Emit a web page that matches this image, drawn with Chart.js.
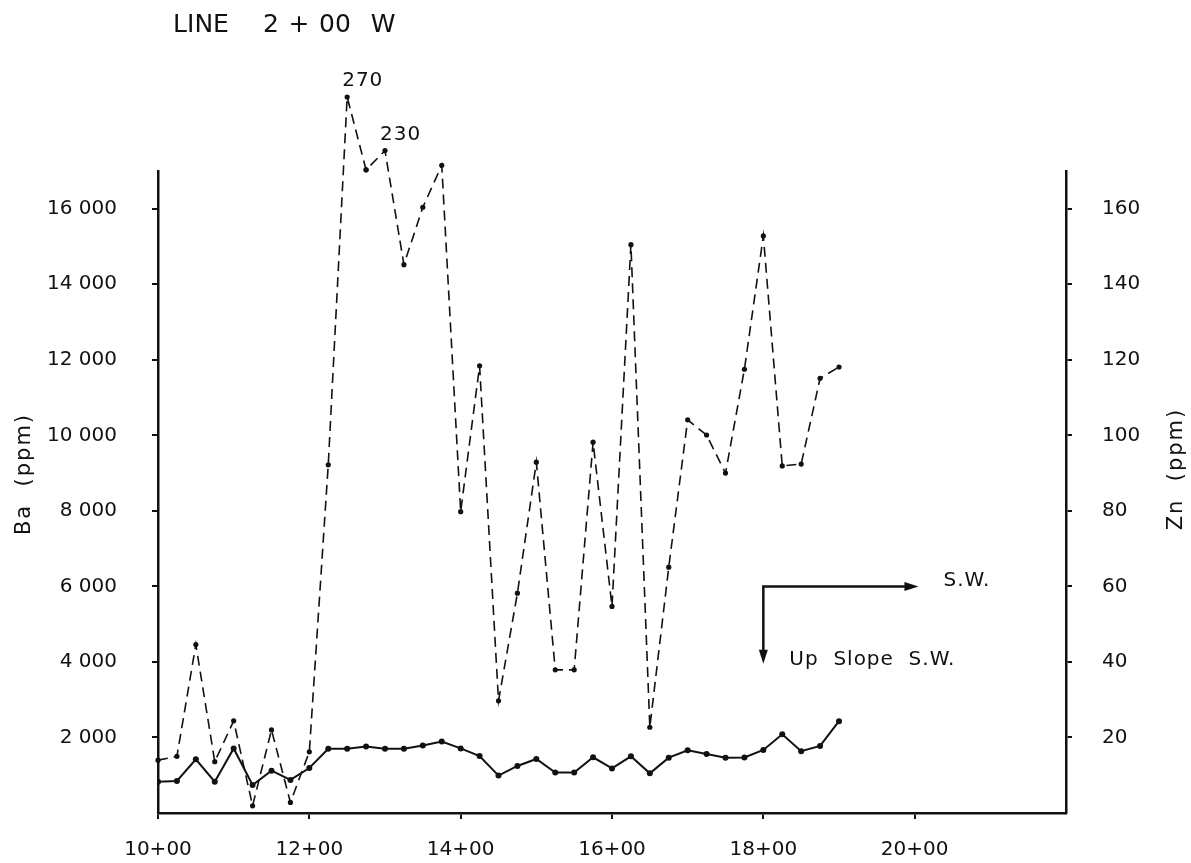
<!DOCTYPE html>
<html>
<head>
<meta charset="utf-8">
<title>Line 2+00 W - Ba and Zn</title>
<script src="https://cdn.jsdelivr.net/npm/chart.js@4"></script>
<style>
  html, body { margin: 0; padding: 0; background: #fff; }
  #wrap { width: 1191px; height: 863px; }
</style>
</head>
<body>
<div id="wrap"><canvas id="chart" width="1191" height="863"></canvas></div>
<script>
// stations along the line, in hundreds of feet (10+00 ... 19+00)
const stations = [
  10.00, 10.25, 10.50, 10.75, 11.00, 11.25, 11.50, 11.75, 12.00, 12.25,
  12.50, 12.75, 13.00, 13.25, 13.50, 13.75, 14.00, 14.25, 14.50, 14.75,
  15.00, 15.25, 15.50, 15.75, 16.00, 16.25, 16.50, 16.75, 17.00, 17.25,
  17.50, 17.75, 18.00, 18.25, 18.50, 18.75, 19.00
];

// Ba (ppm) - solid line, left axis
const baValues = [
  830, 850, 1420, 830, 1710, 740, 1120, 875, 1190, 1700,
  1700, 1760, 1700, 1700, 1790, 1890, 1710, 1510, 990, 1245,
  1430, 1070, 1070, 1475, 1180, 1500, 1050, 1465, 1660, 1560,
  1465, 1470, 1670, 2085, 1635, 1775, 2430
];

// Zn (ppm) - dashed line, right axis (12+50 and 13+00 are drawn off scale)
const znValues = [
  14, 15, 44.6, 13.6, 24.4, 1.9, 22, 2.8, 16.2, 92.2,
  189.6, 170.3, 175.4, 145.2, 160.4, 171.5, 79.8, 118.4, 29.7, 58.2,
  92.9, 37.9, 37.9, 98.2, 54.7, 150.5, 22.7, 65.1, 104.1, 100.1,
  90, 117.5, 152.8, 91.9, 92.4, 115.1, 118.1
];

// true values written beside the off-scale Zn points
const znPeakNotes = [
  { station: 12.50, text: '270' },
  { station: 13.00, text: '230' }
];

const xTicks = [10, 12, 14, 16, 18, 20];
const baTicks = [2000, 4000, 6000, 8000, 10000, 12000, 14000, 16000];
const znTicks = [20, 40, 60, 80, 100, 120, 140, 160];

const ink = '#111';
const fontFamily = '"DejaVu Sans", sans-serif';

const overlay = {
  id: 'overlay',
  afterDatasetsDraw(chart) {
    const { ctx, scales: { x, y1 } } = chart;
    ctx.save();
    ctx.fillStyle = ink;
    ctx.strokeStyle = ink;
    ctx.textBaseline = 'middle';

    // Zn points that sit above the frame (Chart.js skips points outside the chart area)
    const area = chart.chartArea;
    chart.getDatasetMeta(1).data.forEach(pt => {
      if (pt.y < area.top + 2) {
        ctx.beginPath();
        ctx.arc(pt.x, pt.y, 2.6, 0, Math.PI * 2);
        ctx.fill();
      }
    });

    // title, spaced out like the typewriter original
    ctx.font = '25px ' + fontFamily;
    ctx.textAlign = 'center';
    [['LINE', 201], ['2', 271], ['+', 299], ['00', 335], ['W', 383]].forEach(([t, tx]) => {
      ctx.fillText(t, tx, 25);
    });

    // axis titles
    ctx.font = '21px ' + fontFamily;
    ctx.textAlign = 'center';
    ctx.letterSpacing = '2px';
    [['Ba  (ppm)', 25, 474], ['Zn  (ppm)', 1177, 469]].forEach(([t, cx, cy]) => {
      ctx.save();
      ctx.translate(cx, cy);
      ctx.rotate(-Math.PI / 2);
      ctx.fillText(t, 0, 0);
      ctx.restore();
    });

    // off-scale values
    ctx.font = '20px ' + fontFamily;
    ctx.letterSpacing = '1px';
    ctx.textAlign = 'left';
    znPeakNotes.forEach(n => {
      const i = stations.indexOf(n.station);
      const px = x.getPixelForValue(n.station);
      const py = y1.getPixelForValue(znValues[i]);
      ctx.fillText(n.text, px - 5, py - 16);
    });

    // direction arrows
    const cx = x.getPixelForValue(18);
    const cy = y1.getPixelForValue(60);
    const rx = x.getPixelForValue(20.05);
    const by = y1.getPixelForValue(39.5);
    ctx.lineWidth = 2.5;
    ctx.beginPath();
    ctx.moveTo(rx - 10, cy);
    ctx.lineTo(cx, cy);
    ctx.lineTo(cx, by - 10);
    ctx.stroke();
    ctx.beginPath();
    ctx.moveTo(rx, cy);
    ctx.lineTo(rx - 14, cy - 4.5);
    ctx.lineTo(rx - 14, cy + 4.5);
    ctx.closePath();
    ctx.fill();
    ctx.beginPath();
    ctx.moveTo(cx, by);
    ctx.lineTo(cx - 4.5, by - 14);
    ctx.lineTo(cx + 4.5, by - 14);
    ctx.closePath();
    ctx.fill();

    ctx.font = '20px ' + fontFamily;
    ctx.letterSpacing = '1px';
    ctx.fillText('S.W.', rx + 25, cy - 6);
    ctx.fillText('Up  Slope  S.W.', cx + 26, by - 4);
    ctx.restore();
  }
};

const axisGrid = {
  display: true,
  drawOnChartArea: false,
  drawTicks: true,
  tickLength: 6,
  color: ink,
  lineWidth: 2
};

new Chart(document.getElementById('chart'), {
  type: 'line',
  data: {
    datasets: [
      {
        label: 'Ba (ppm)',
        data: stations.map((s, i) => ({ x: s, y: baValues[i] })),
        yAxisID: 'y',
        borderColor: ink,
        backgroundColor: ink,
        borderWidth: 2,
        pointRadius: 3,
        pointBorderWidth: 0,
        tension: 0
      },
      {
        label: 'Zn (ppm)',
        data: stations.map((s, i) => ({ x: s, y: znValues[i] })),
        yAxisID: 'y1',
        borderColor: ink,
        backgroundColor: ink,
        borderWidth: 1.6,
        borderDash: [10, 6],
        pointRadius: 2.6,
        pointBorderWidth: 0,
        tension: 0,
        clip: false
      }
    ]
  },
  options: {
    responsive: false,
    animation: false,
    layout: { padding: { top: 171, left: 0, right: 0, bottom: 0 } },
    plugins: {
      legend: { display: false },
      tooltip: { enabled: false }
    },
    scales: {
      x: {
        type: 'linear',
        min: 10,
        max: 22,
        afterBuildTicks: axis => { axis.ticks = xTicks.map(v => ({ value: v })); },
        afterFit: axis => { axis.height = 50; },
        grid: axisGrid,
        border: { display: true, color: ink, width: 2.5 },
        ticks: {
          color: ink,
          padding: 19,
          maxRotation: 0,
          font: { family: fontFamily, size: 20 },
          callback: v => v + '+00'
        }
      },
      y: {
        position: 'left',
        min: 0,
        max: 17000,
        afterBuildTicks: axis => { axis.ticks = baTicks.map(v => ({ value: v })); },
        afterFit: axis => { axis.width = 158; },
        grid: axisGrid,
        border: { display: true, color: ink, width: 2.5 },
        ticks: {
          color: ink,
          padding: 35,
          font: { family: fontFamily, size: 20 },
          callback: v => (v / 1000) + ' 000'
        }
      },
      y1: {
        position: 'right',
        min: 0,
        max: 170,
        afterBuildTicks: axis => { axis.ticks = znTicks.map(v => ({ value: v })); },
        afterFit: axis => { axis.width = 1191 - 1066; },
        grid: axisGrid,
        border: { display: true, color: ink, width: 2.5 },
        ticks: {
          color: ink,
          padding: 30,
          font: { family: fontFamily, size: 20 },
          callback: v => String(v)
        }
      }
    }
  },
  plugins: [overlay]
});
</script>
</body>
</html>
